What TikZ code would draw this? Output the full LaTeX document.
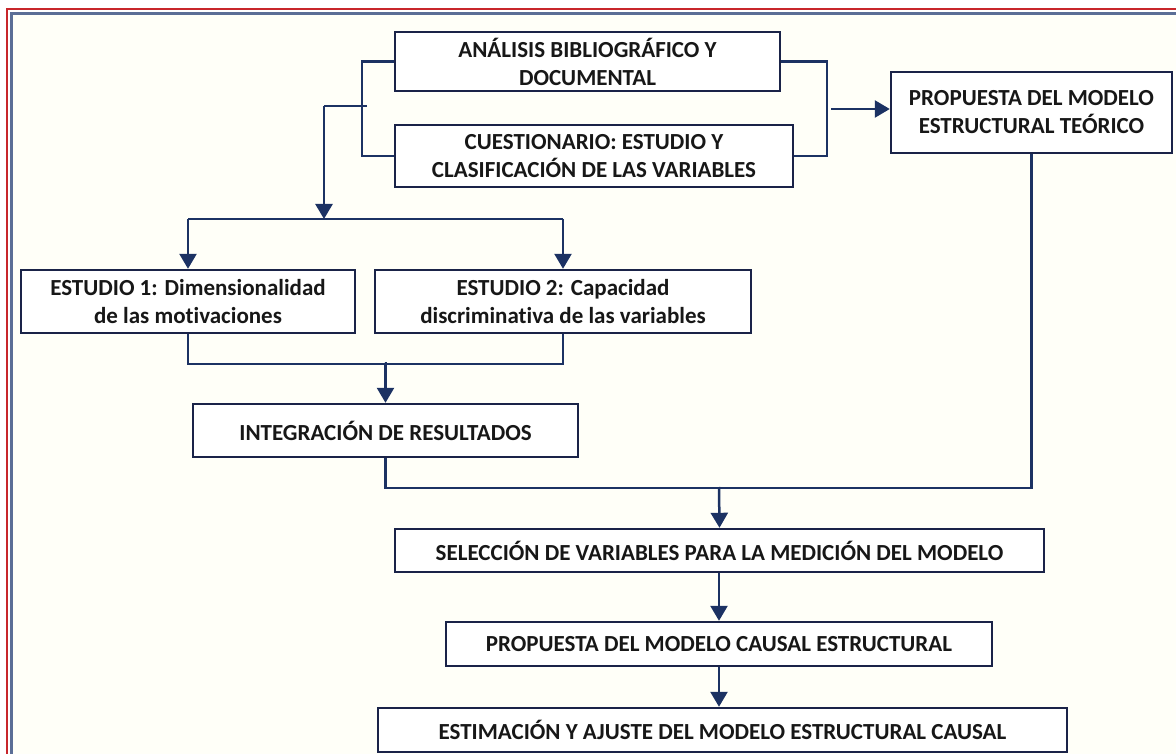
\documentclass[tikz,border=0pt]{standalone}
\usepackage{fontspec}
\setmainfont{Carlito}[Ligatures={NoCommon}]
\usetikzlibrary{arrows.meta}
\definecolor{navy}{HTML}{1C3263}
\definecolor{boxc}{HTML}{1A2348}
\definecolor{txt}{HTML}{171717}
\definecolor{frameRed}{HTML}{C8262B}
\definecolor{frameBlue}{HTML}{5B6E96}
\definecolor{bg}{HTML}{FFFFF8}
\begin{document}
\begin{tikzpicture}[x=1pt,y=-1pt,
  box/.style={draw=boxc, line width=2.4pt, fill=white, inner sep=0pt, align=center, text=txt,
    font=\fontsize{23}{28}\selectfont\bfseries},
  conn/.style={draw=navy, line width=2.5pt},
  arr/.style={conn, -{Triangle[length=15pt,width=17pt]}}]
\useasboundingbox (0,0) rectangle (1176,754);
\clip (0,0) rectangle (1176,754);
\fill[white] (0,0) rectangle (1176,754);
\fill[bg] (13,14) rectangle (1180,760);
\draw[frameRed, line width=1.4pt] (7,760) -- (7,9) -- (1180,9);
\draw[frameBlue, line width=3pt] (11.5,760) -- (11.5,13.5) -- (1180,13.5);

% boxes
\node[box, minimum width=385pt, minimum height=59pt] (A) at (587.5,61.5) {ANÁLISIS BIBLIOGRÁFICO Y\\DOCUMENTAL};
\node[box, minimum width=398pt, minimum height=62pt] (B) at (594,156) {CUESTIONARIO: ESTUDIO Y\\CLASIFICACIÓN DE LAS VARIABLES};
\node[box, minimum width=281pt, minimum height=81pt] (P) at (1031.5,112.5) {PROPUESTA DEL MODELO\\ESTRUCTURAL TEÓRICO};
\node[box, minimum width=334pt, minimum height=63pt] (E1) at (188,301.5) {ESTUDIO 1: Dimensionalidad\\de las motivaciones};
\node[box, minimum width=376pt, minimum height=63pt] (E2) at (563,301.5) {ESTUDIO 2: Capacidad\\discriminativa de las variables};
\node[box, minimum width=385pt, minimum height=53pt] (I) at (385.5,430.5) {INTEGRACIÓN DE RESULTADOS};
\node[box, minimum width=649pt, minimum height=43pt] (S) at (719.5,550.5) {SELECCIÓN DE VARIABLES PARA LA MEDICIÓN DEL MODELO};
\node[box, minimum width=546pt, minimum height=44pt] (C) at (719,644) {PROPUESTA DEL MODELO CAUSAL ESTRUCTURAL};
\node[box, minimum width=689pt, minimum height=44pt] (F) at (722.5,730) {ESTIMACIÓN Y AJUSTE DEL MODELO ESTRUCTURAL CAUSAL};

% connectors
\coordinate (stubR) at (367,106);
\coordinate (stubL) at (324,106);
\coordinate (hsplit) at (324,219);
\coordinate (m1) at (385,363);
\coordinate (m2) at (719,487);
\coordinate (ra) at (831,109);

\draw[conn] (A.west) -- ++(-32,0) |- (B.west);
\draw[conn] (stubR) -- (stubL);
\draw[arr] (stubL) -- (hsplit);
\draw[conn] (E1.north |- hsplit) -- (E2.north |- hsplit);
\draw[arr] (E1.north |- hsplit) -- (E1.north);
\draw[arr] (E2.north |- hsplit) -- (E2.north);

\draw[conn] (A.east) -- ++(46,0) |- (B.east);
\draw[arr] (ra) -- (P.west |- ra);

\draw[conn] (E1.south) -- ++(0,30) -| (E2.south);
\draw[arr] (m1) -- (I.north |- m1) -- (I.north);

\draw[conn] (I.south) -- ++(0,30) -| (P.south);
\draw[arr] (m2) -- (S.north);
\draw[arr] (C.north |- S.south) -- (C.north);
\draw[arr] (C.south) -- (C.south |- F.north);
\end{tikzpicture}
\end{document}
